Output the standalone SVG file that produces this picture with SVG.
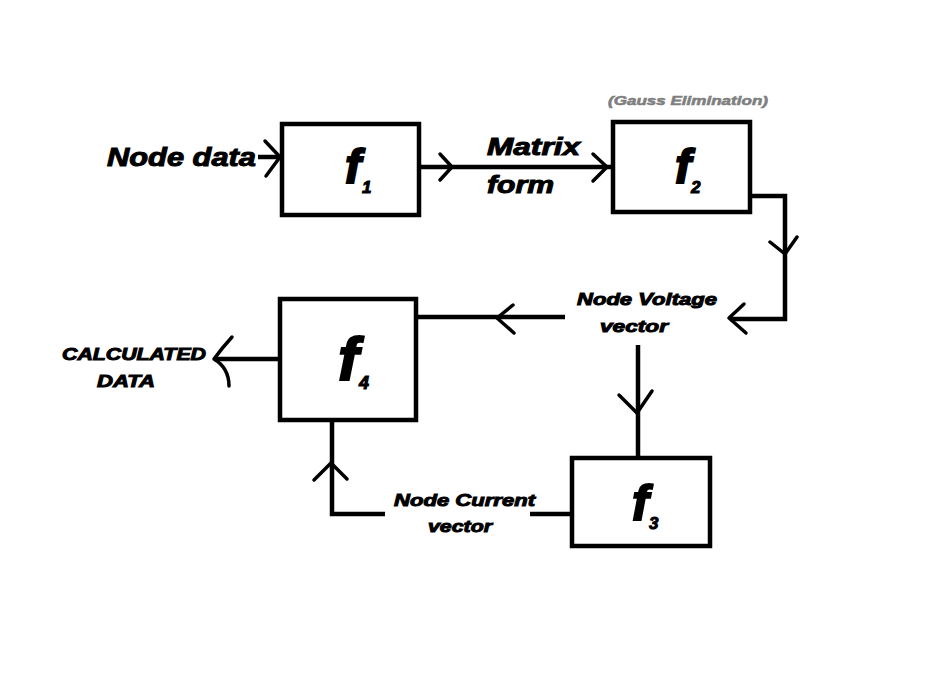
<svg xmlns="http://www.w3.org/2000/svg" width="950" height="674" viewBox="0 0 950 674">
<style>
.box{fill:#fff;stroke:#000;stroke-width:4.5}
.ln{fill:none;stroke:#000;stroke-width:4.5;stroke-linecap:butt;stroke-linejoin:miter}
.ah{fill:none;stroke:#000;stroke-width:3.5;stroke-linecap:round;stroke-linejoin:round}
.t{font-family:"Liberation Sans",Arial,sans-serif;font-weight:bold;font-style:italic;fill:#000;stroke:#000;stroke-width:1}
.f{font-family:"Liberation Sans",Arial,sans-serif;font-weight:bold;font-style:italic;fill:#000;stroke:#000;stroke-width:2}
.g{font-family:"Liberation Sans",Arial,sans-serif;font-weight:bold;font-style:italic;fill:#7f7f7f;stroke:#7f7f7f;stroke-width:0.6}
</style>
<rect width="950" height="674" fill="#fff"/>
<g id="connectors">
  <line class="ln" x1="258" y1="157" x2="280" y2="157"/>
  <polyline class="ah" points="265,141 280,157 266,176"/>
  <line class="ln" x1="420" y1="167" x2="611" y2="167"/>
  <polyline class="ah" points="440,154 452,167 440,180"/>
  <polyline class="ah" points="593,154 607,167 593,181"/>
  <polyline class="ln" points="752,196 785,196 785,319 730,319"/>
  <polyline class="ah" points="770,242 785,254 797,237"/>
  <polyline class="ah" points="744,304 729,318 746,333"/>
  <line class="ln" x1="565" y1="317" x2="414" y2="317"/>
  <polyline class="ah" points="513,305 497,318 514,333"/>
  <line class="ln" x1="638" y1="345" x2="638" y2="458"/>
  <polyline class="ah" points="619,395 637,413 652,391"/>
  <line class="ln" x1="530" y1="514" x2="572" y2="514"/>
  <polyline class="ln" points="385,514 332,514 332,421"/>
  <polyline class="ah" points="314,480 331,463 347,479"/>
  <line class="ln" x1="278" y1="359" x2="214" y2="359"/>
  <path class="ah" d="M232,337 Q222,348 214,359 Q229,368 229,386"/>
</g>
<g id="node-f1">
  <rect class="box" x="282" y="124" width="137" height="91"/>
  <text class="f" x="345" y="183" font-size="48">f</text>
  <text class="t" x="362" y="193" font-size="17">1</text>
</g>
<g id="node-f2">
  <rect class="box" x="613" y="122" width="137" height="90"/>
  <text class="f" x="675" y="183" font-size="48">f</text>
  <text class="t" x="691" y="193" font-size="17">2</text>
  <text class="g" x="608" y="105" font-size="13.5" textLength="160" lengthAdjust="spacingAndGlyphs">(Gauss Elimination)</text>
</g>
<g id="node-f3">
  <rect class="box" x="572" y="458" width="138" height="88"/>
  <text class="f" x="632" y="520" font-size="50">f</text>
  <text class="t" x="649" y="529" font-size="17">3</text>
</g>
<g id="node-f4">
  <rect class="box" x="280" y="299" width="136" height="121"/>
  <text class="f" x="338" y="380" font-size="62">f</text>
  <text class="t" x="359" y="389" font-size="18">4</text>
</g>
<g id="labels">
  <text class="t" x="107" y="166" font-size="25" textLength="149" lengthAdjust="spacingAndGlyphs">Node data</text>
  <text class="t" x="487" y="155" font-size="24" textLength="93" lengthAdjust="spacingAndGlyphs">Matrix</text>
  <text class="t" x="487" y="193" font-size="24" textLength="67" lengthAdjust="spacingAndGlyphs">form</text>
  <text class="t" x="577" y="305" font-size="17" textLength="140" lengthAdjust="spacingAndGlyphs">Node Voltage</text>
  <text class="t" x="600" y="332" font-size="17" textLength="68" lengthAdjust="spacingAndGlyphs">vector</text>
  <text class="t" x="394" y="506" font-size="17" textLength="141" lengthAdjust="spacingAndGlyphs">Node Current</text>
  <text class="t" x="428" y="532" font-size="17" textLength="64" lengthAdjust="spacingAndGlyphs">vector</text>
  <text class="t" x="62" y="360" font-size="17" textLength="144" lengthAdjust="spacingAndGlyphs">CALCULATED</text>
  <text class="t" x="97" y="387" font-size="17" textLength="58" lengthAdjust="spacingAndGlyphs">DATA</text>
</g>
</svg>
